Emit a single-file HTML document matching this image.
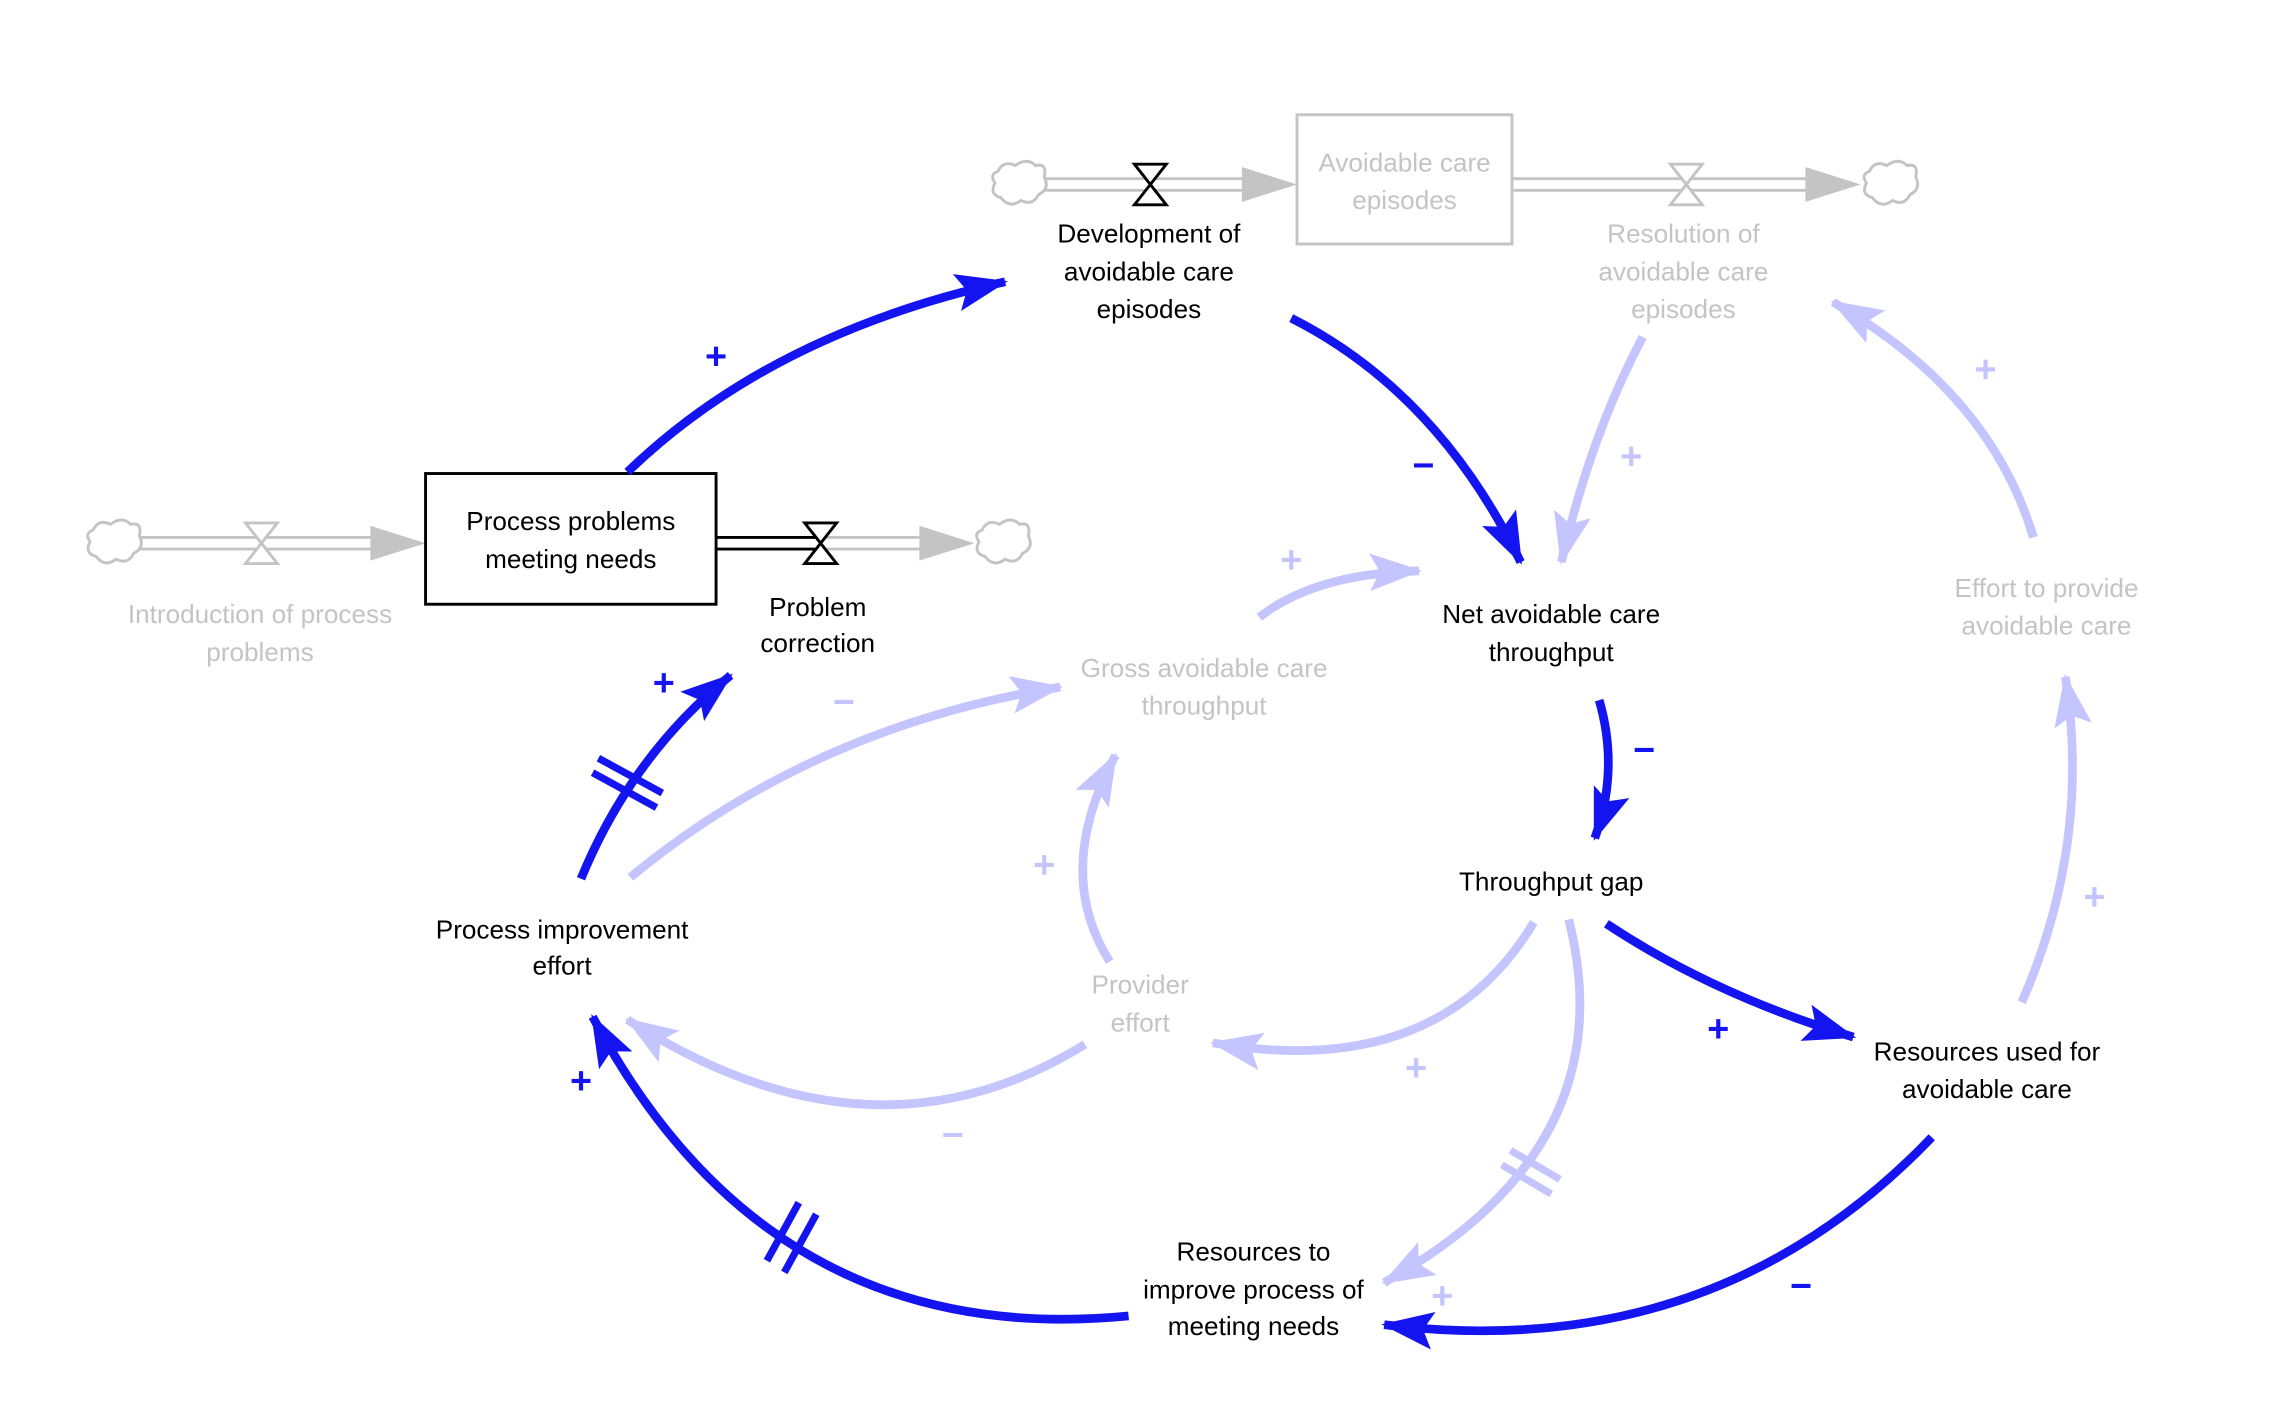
<!DOCTYPE html>
<html><head><meta charset="utf-8"><style>
html,body{margin:0;padding:0;background:#fff;}
svg{display:block;}
text{font-family:"Liberation Sans",sans-serif;font-size:18px;text-anchor:middle;}
.k{fill:#000}.g{fill:#c4c4c4}
.dk{fill:#1414f0;font-size:26px;font-weight:bold}.lt{fill:#c4c4ff;font-size:26px;font-weight:bold}
</style></head><body>
<svg width="2276" height="1414" viewBox="0 0 1567 973.5" xmlns="http://www.w3.org/2000/svg">
<defs>
<marker id="ad" markerUnits="userSpaceOnUse" markerWidth="38" markerHeight="28" refX="34" refY="14" orient="auto"><path d="M0,1 L36,14 L0,27 L7,14 Z" fill="#1414f0"/></marker>
<marker id="al" markerUnits="userSpaceOnUse" markerWidth="38" markerHeight="28" refX="34" refY="14" orient="auto"><path d="M0,1 L36,14 L0,27 L7,14 Z" fill="#c4c4ff"/></marker>
</defs>
<g stroke="#c4c4c4" stroke-width="2" fill="none">
<line x1="95" y1="370" x2="262" y2="370"/><line x1="95" y1="378" x2="262" y2="378"/>
<line x1="565" y1="370" x2="640" y2="370"/><line x1="565" y1="378" x2="640" y2="378"/>
<line x1="718" y1="123" x2="860" y2="123"/><line x1="718" y1="131" x2="860" y2="131"/>
<line x1="1042" y1="123" x2="1250" y2="123"/><line x1="1042" y1="131" x2="1250" y2="131"/>
</g>
<g stroke="#000" stroke-width="2"><line x1="494" y1="370" x2="565" y2="370"/><line x1="494" y1="378" x2="565" y2="378"/></g>
<g fill="#c4c4c4"><path d="M255,362 L293,374 L255,386Z"/><path d="M633,362 L671,374 L633,386Z"/><path d="M855,115 L893,127 L855,139Z"/><path d="M1243,115 L1281,127 L1243,139Z"/></g>
<g fill="#fff" stroke-width="2">
<path d="M169,360 L191,360 L169,388 L191,388Z" stroke="#c4c4c4"/>
<path d="M554,360 L576,360 L554,388 L576,388Z" stroke="#000"/>
<path d="M781,113 L803,113 L781,141 L803,141Z" stroke="#000"/>
<path d="M1150,113 L1172,113 L1150,141 L1172,141Z" stroke="#c4c4c4"/>
</g>
<g fill="#fff" stroke="#c4c4c4" stroke-width="2">
<path d="M64,365 q4,-8 12,-4 q8,-6 14,0 q8,-2 6,8 q4,8 -4,12 q-4,8 -12,4 q-8,6 -14,-2 q-8,-2 -4,-10 q-4,-6 2,-8Z"/>
<path d="M676,365 q4,-8 12,-4 q8,-6 14,0 q8,-2 6,8 q4,8 -4,12 q-4,8 -12,4 q-8,6 -14,-2 q-8,-2 -4,-10 q-4,-6 2,-8Z"/>
<path d="M687,118 q4,-8 12,-4 q8,-6 14,0 q8,-2 6,8 q4,8 -4,12 q-4,8 -12,4 q-8,6 -14,-2 q-8,-2 -4,-10 q-4,-6 2,-8Z"/>
<path d="M1287,118 q4,-8 12,-4 q8,-6 14,0 q8,-2 6,8 q4,8 -4,12 q-4,8 -12,4 q-8,6 -14,-2 q-8,-2 -4,-10 q-4,-6 2,-8Z"/>
</g>
<rect x="293" y="326" width="200" height="90" fill="#fff" stroke="#000" stroke-width="2"/>
<rect x="893" y="79" width="148" height="89" fill="#fff" stroke="#c4c4c4" stroke-width="2"/>
<g fill="none" stroke="#c4c4ff" stroke-width="6" marker-end="url(#al)">
<path d="M1131,232 Q1095,300 1075,387"/>
<path d="M1400,370 Q1370,270 1262,208"/>
<path d="M1392,690 Q1440,580 1422,466"/>
<path d="M434,604 Q560,500 730,473"/>
<path d="M867,425 Q905,395 977,393"/>
<path d="M764,662 Q725,600 768,520"/>
<path d="M1056,635 Q990,745 835,718"/>
<path d="M1080,633 Q1120,790 953,883"/>
<path d="M747,719 Q600,810 432,702"/>
</g>
<g stroke="#c4c4ff" stroke-width="5"><line x1="1040" y1="792" x2="1074" y2="812"/><line x1="1034" y1="802" x2="1068" y2="822"/></g>
<g fill="none" stroke="#1414f0" stroke-width="6" marker-end="url(#ad)">
<path d="M432,325 Q530,230 692,194"/>
<path d="M889,219 Q990,270 1047,387"/>
<path d="M1101,482 Q1115,530 1098,577"/>
<path d="M1106,636 Q1180,685 1276,714"/>
<path d="M1330,783 Q1180,940 953,912"/>
<path d="M777,906 Q530,930 408,700"/>
<path d="M400,605 Q435,520 503,465"/>
</g>
<g stroke="#1414f0" stroke-width="5"><line x1="528" y1="868" x2="550" y2="828"/><line x1="540" y1="876" x2="562" y2="836"/>
<line x1="412" y1="522" x2="456" y2="546"/><line x1="408" y1="532" x2="452" y2="556"/></g>
<text class="dk" x="493" y="254">+</text><text class="dk" x="980" y="329">−</text>
<text class="dk" x="1132" y="525">−</text><text class="dk" x="1183" y="717">+</text>
<text class="dk" x="1240" y="894">−</text><text class="dk" x="400" y="753">+</text>
<text class="dk" x="457" y="479">+</text>
<text class="lt" x="1123" y="323">+</text><text class="lt" x="1367" y="263">+</text>
<text class="lt" x="1442" y="626">+</text><text class="lt" x="581" y="492">−</text>
<text class="lt" x="889" y="394">+</text><text class="lt" x="719" y="604">+</text>
<text class="lt" x="975" y="744">+</text><text class="lt" x="993" y="901">+</text>
<text class="lt" x="656" y="790">−</text>
<text class="k" x="393" y="365">Process problems</text><text class="k" x="393" y="391">meeting needs</text>
<text class="g" x="967" y="118">Avoidable care</text><text class="g" x="967" y="144">episodes</text>
<text class="k" x="791" y="167">Development of</text><text class="k" x="791" y="193">avoidable care</text><text class="k" x="791" y="219">episodes</text>
<text class="g" x="1159" y="167">Resolution of</text><text class="g" x="1159" y="193">avoidable care</text><text class="g" x="1159" y="219">episodes</text>
<text class="g" x="179" y="429">Introduction of process</text><text class="g" x="179" y="455">problems</text>
<text class="k" x="563" y="424">Problem</text><text class="k" x="563" y="449">correction</text>
<text class="k" x="1068" y="429">Net avoidable care</text><text class="k" x="1068" y="455">throughput</text>
<text class="g" x="1409" y="411">Effort to provide</text><text class="g" x="1409" y="437">avoidable care</text>
<text class="g" x="829" y="466">Gross avoidable care</text><text class="g" x="829" y="492">throughput</text>
<text class="k" x="1068" y="613">Throughput gap</text>
<text class="k" x="387" y="646">Process improvement</text><text class="k" x="387" y="671">effort</text>
<text class="g" x="785" y="684">Provider</text><text class="g" x="785" y="710">effort</text>
<text class="k" x="1368" y="730">Resources used for</text><text class="k" x="1368" y="756">avoidable care</text>
<text class="k" x="863" y="868">Resources to</text><text class="k" x="863" y="894">improve process of</text><text class="k" x="863" y="919">meeting needs</text>
</svg>
</body></html>
